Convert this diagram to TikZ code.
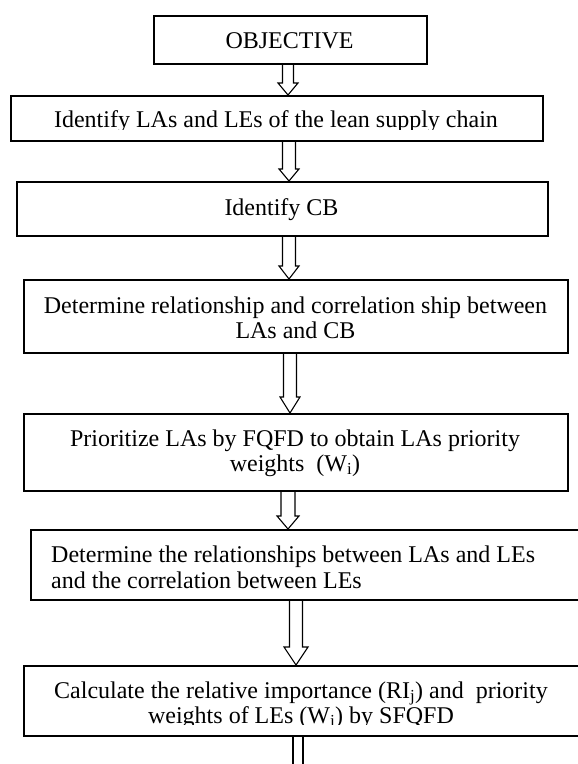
\documentclass[tikz,border=0pt]{standalone}
\usepackage{fontspec}
\setmainfont{Liberation Serif}
\usetikzlibrary{calc}
\tikzset{
  box/.style={draw, line width=1.6pt, inner sep=0pt, anchor=north west},
  lbl/.style={anchor=base, inner sep=0pt, font=\fontsize{24}{25}\selectfont},
  lbll/.style={anchor=base west, inner sep=0pt, font=\fontsize{24}{25}\selectfont},
  hollow/.style={draw, line width=1.1pt, line join=miter},
}
\newcommand\blockarrow[6]{% x, from node, to node, shaft half width, head half width, head height
  \coordinate (ax) at (#1,0);
  \draw[hollow] ($(ax |- #2.south)+(-#4,0)$) -- ($(ax |- #3.north)+(-#4,-#6)$)
     -- ($(ax |- #3.north)+(-#5,-#6)$) -- (ax |- #3.north)
     -- ($(ax |- #3.north)+(#5,-#6)$) -- ($(ax |- #3.north)+(#4,-#6)$)
     -- ($(ax |- #2.south)+(#4,0)$);
}
\begin{document}
\begin{tikzpicture}[x=1pt, y=-1pt]
\useasboundingbox (0,0) rectangle (578,764);
\clip (0,0) rectangle (578,764);

% boxes
\node[box, minimum width=273pt, minimum height=48pt] (b1) at (153,15) {};
\node[box, minimum width=532pt, minimum height=45pt] (b2) at (10,95) {};
\node[box, minimum width=531pt, minimum height=54pt] (b3) at (16,181) {};
\node[box, minimum width=544pt, minimum height=73pt] (b4) at (23,279) {};
\node[box, minimum width=544pt, minimum height=77pt] (b5) at (23,413) {};
\node[box, minimum width=560pt, minimum height=70pt] (b6) at (30,529) {};
\node[box, minimum width=560pt, minimum height=70pt] (b7) at (23,665) {};

% texts
\node[lbl] (t1) at (289.5,48) {OBJECTIVE};
\begin{scope}
  \clip (0,90) rectangle (578,129.5);
  \node[lbl] (t2) at (276,127.5) {Identify LAs and LEs of the lean supply chain};
\end{scope}
\node[lbl] (t3) at (281.5,215) {Identify CB};
\node[lbl] (t4a) at (295.5,313) {Determine relationship and correlation ship between};
\node[lbl] (t4b) at (295.5,338) {LAs and CB};
\node[lbl] (t5a) at (295,446) {Prioritize LAs by FQFD to obtain LAs priority};
\node[lbl] (t5b) at (295,471) {weights\ \ (W\textsubscript{i})};
\begin{scope}
  \clip (0,530) rectangle (578,589.5);
  \node[lbll] (t6a) at (51,562) {Determine the relationships between LAs and LEs};
  \node[lbll] (t6b) at (51,588) {and the correlation between LEs};
\end{scope}
\begin{scope}
  \clip (0,666) rectangle (578,724.5);
  \node[lbl] (t7a) at (301,698) {Calculate the relative importance (RI\textsubscript{j}) and\ \ priority};
  \node[lbl] (t7b) at (301,723) {weights of LEs (W\textsubscript{j}) by SFQFD};
\end{scope}

% arrows
\blockarrow{288}{b1}{b2}{5.5}{10}{12}
\blockarrow{289}{b2}{b3}{6.5}{10}{12}
\blockarrow{289}{b3}{b4}{6.5}{10}{13}
\blockarrow{290}{b4}{b5}{6.5}{10}{16}
\blockarrow{288}{b5}{b6}{7}{11}{13}
\blockarrow{296}{b6}{b7}{6.5}{12}{18}
\coordinate (bot) at (298,770);
\draw[hollow] ($(bot |- b7.south)+(-5,0)$) -- ($(bot)+(-5,0)$);
\draw[hollow] ($(bot |- b7.south)+(5,0)$) -- ($(bot)+(5,0)$);
\end{tikzpicture}
\end{document}
